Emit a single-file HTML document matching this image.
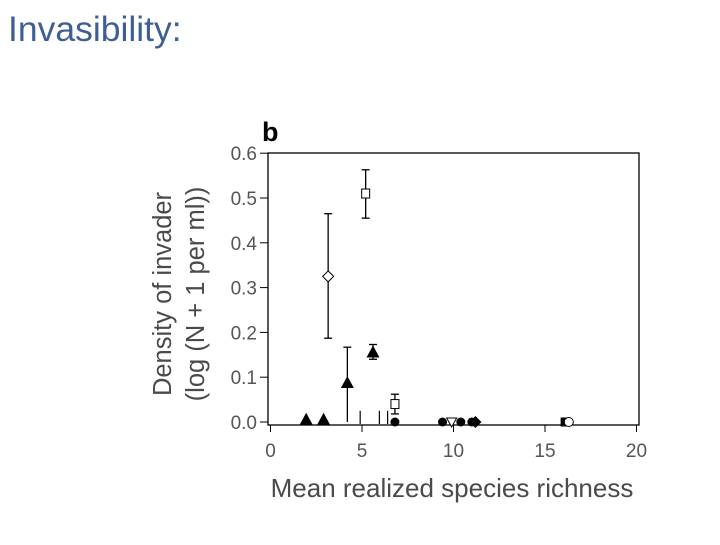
<!DOCTYPE html>
<html><head><meta charset="utf-8"><style>
body{margin:0;background:#fff;width:720px;height:540px;overflow:hidden}
svg text{font-family:"Liberation Sans",sans-serif}
</style></head><body>
<svg id="c" width="720" height="540">
<text x="8" y="41" font-size="35.5" fill="#3f5f94">Invasibility:</text>
<text x="262" y="141" font-size="27" font-weight="bold" fill="#000">b</text>
<rect x="268" y="153" width="371" height="272" fill="none" stroke="#000" stroke-width="1.3"/>
<g id="axes"></g><g id="marks"></g>
<text transform="translate(171,294) rotate(-90)" text-anchor="middle" font-size="25.5" fill="#4a4a4a">Density of invader</text>
<text transform="translate(204,294) rotate(-90)" text-anchor="middle" font-size="25.5" fill="#4a4a4a">(log (N + 1 per ml))</text>
<text x="452" y="497" text-anchor="middle" font-size="26" fill="#4a4a4a">Mean realized species richness</text>
</svg>
<script>
const xTicks=[0,5,10,15,20];
const yTicks=[0,0.1,0.2,0.3,0.4,0.5,0.6];
const yTickLabels=["0.0","0.1","0.2","0.3","0.4","0.5","0.6"];
const ptX=[1.95,2.9,4.2,3.15,5.2,5.6,6.8,6.8,9.4,9.9,10.4,11.0,11.2,16.1,16.3];
const ptY=[0.005,0.005,0.087,0.325,0.51,0.155,0.04,0.0,0.0,0.0,0.0,0.0,0.0,0.0,0.0];
const ptLo=[null,null,0.0,0.187,0.455,0.14,0.018,null,null,null,null,null,null,null,null];
const ptHi=[null,null,0.167,0.465,0.563,0.173,0.062,null,null,null,null,null,null,null,null];
const ptShape=["tri","tri","tri","odiam","osq","tri","osq","circ","circ","itri","circ","circ","diam","sq","ocirc"];
const stubX=[4.9,5.95,6.4];
const stubHi=[0.025,0.025,0.025];
const NS="http://www.w3.org/2000/svg";
const sx=v=>270.5+v*18.3;
const sy=v=>422-v*448;
const ax=document.getElementById('axes'),mk=document.getElementById('marks');
function el(t,a,p){const e=document.createElementNS(NS,t);for(const k in a)e.setAttribute(k,a[k]);p.appendChild(e);return e;}
xTicks.forEach((t,i)=>{
 const l=el('line',{x1:sx(t),x2:sx(t),y1:425,y2:432,stroke:'#000'},ax);
 
 
 const tx=el('text',{x:sx(t),y:457,'text-anchor':'middle','font-size':19,fill:'#555'},ax);tx.textContent=t;
 
 
});
yTicks.forEach((t,i)=>{
 const l=el('line',{x1:260,x2:268,y1:sy(t),y2:sy(t),stroke:'#000'},ax);
 
 
 const tx=el('text',{x:257,y:sy(t)+7,'text-anchor':'end','font-size':19,fill:'#555'},ax);tx.textContent=yTickLabels[i];
 
 
});
stubX.forEach((x,i)=>{
 const l=el('line',{x1:sx(x),x2:sx(x),y1:sy(0)+2,y2:sy(stubHi[i]),stroke:'#000','stroke-width':1.2},mk);
 
 
});
ptX.forEach((x,i)=>{
 const cx=sx(x),cy=sy(ptY[i]);
 if(ptLo[i]!==null){
  const g=el('g',{stroke:'#000','stroke-width':1.3},mk);
  
  
  el('line',{x1:cx,x2:cx,y1:sy(ptLo[i]),y2:sy(ptHi[i])},g);
  el('line',{x1:cx-4,x2:cx+4,y1:sy(ptHi[i]),y2:sy(ptHi[i])},g);
  if(ptLo[i]>0)el('line',{x1:cx-4,x2:cx+4,y1:sy(ptLo[i]),y2:sy(ptLo[i])},g);
 }
 const s=ptShape[i];let m;
 if(s==='tri')m=el('polygon',{points:`${cx},${cy-7} ${cx-6.5},${cy+5} ${cx+6.5},${cy+5}`,fill:'#000'},mk);
 else if(s==='itri')m=el('polygon',{points:`${cx-5},${cy-4} ${cx+5},${cy-4} ${cx},${cy+5}`,fill:'#fff',stroke:'#000'},mk);
 else if(s==='odiam')m=el('polygon',{points:`${cx},${cy-5.5} ${cx+5.5},${cy} ${cx},${cy+5.5} ${cx-5.5},${cy}`,fill:'#fff',stroke:'#000'},mk);
 else if(s==='diam')m=el('polygon',{points:`${cx},${cy-6} ${cx+6},${cy} ${cx},${cy+6} ${cx-6},${cy}`,fill:'#000'},mk);
 else if(s==='osq')m=el('rect',{x:cx-4,y:cy-4.5,width:8,height:9,fill:'#fff',stroke:'#000'},mk);
 else if(s==='sq')m=el('rect',{x:cx-4.5,y:cy-4.5,width:9,height:9,fill:'#000'},mk);
 else if(s==='circ')m=el('circle',{cx:cx,cy:cy,r:4.5,fill:'#000'},mk);
 else m=el('circle',{cx:cx,cy:cy,r:4.5,fill:'#fff',stroke:'#000'},mk);
 
 
});
</script>
</body></html>
